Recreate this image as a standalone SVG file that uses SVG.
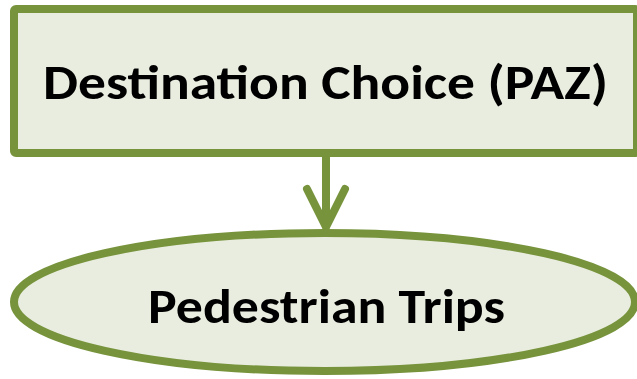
<svg xmlns="http://www.w3.org/2000/svg" width="637" height="379" viewBox="0 0 637 379">
<style>
.shape{fill:#E9EDDF;stroke:#77933C;stroke-width:8}
.lbl{font-family:Carlito,Calibri,Lato,sans-serif;font-weight:bold;fill:#000;text-anchor:start}
.conn{stroke:#77933C;stroke-width:8;fill:none;stroke-linecap:round;stroke-linejoin:round}
</style>
<rect width="637" height="379" fill="#FFFFFF"/>
<g id="node-destination">
<rect class="shape" x="14" y="9" width="623" height="144" rx="2"/>
<text class="lbl" x="43" y="98.5" font-size="49" textLength="565" lengthAdjust="spacingAndGlyphs">Destination Choice (PAZ)</text>
</g>
<g id="connectors">
<path class="conn" d="M326 153 V226"/>
<path class="conn" d="M307 189 L326 227 L345 189"/>
</g>
<g id="node-pedestrian">
<ellipse class="shape" cx="324.5" cy="302" rx="310.5" ry="69"/>
<text class="lbl" x="148" y="322.5" font-size="47.5" textLength="357" lengthAdjust="spacingAndGlyphs">Pedestrian Trips</text>
</g>
</svg>
